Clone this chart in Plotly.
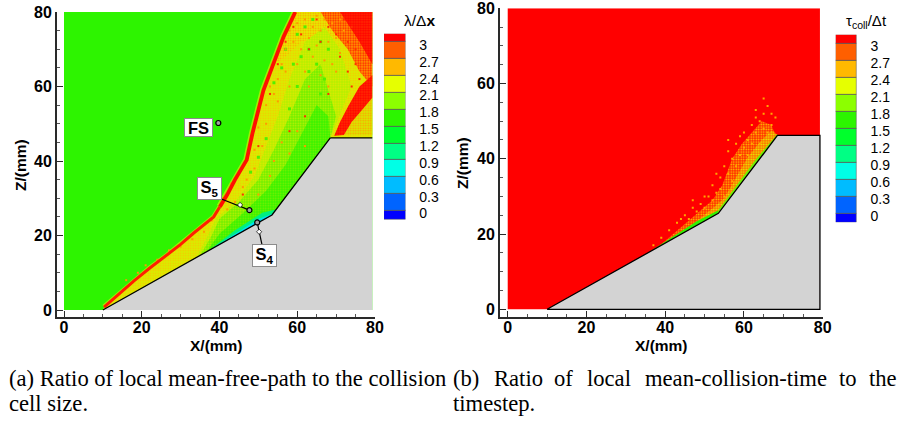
import plotly.graph_objects as go

W, H = 897, 422
# ---------- data ----------
wall_x = [10, 53.5, 68.5, 79.3, 79.3, 10]
wall_z = [0, 25.5, 46.2, 46.2, 0, 0]
field_x = [0, 79.3, 79.3, 0, 0]
field_z = [80, 80, 0, 0, 80]

shock_low_x = [10.3, 14, 18, 22, 26.5, 30, 33.3, 36, 38.5, 40.1]
shock_low_z = [0.8, 4.2, 7.8, 11.2, 14.7, 17.6, 20.6, 22.8, 25, 27.7]
shock_up_x = [40.1, 42, 44, 47, 48.5, 49.5, 51.3, 53.9, 56.5, 59.5]
shock_up_z = [27.7, 31, 35, 40.3, 47.5, 52, 59, 66.2, 73.4, 80]

layer_x = [10.3, 18, 26.5, 33.3, 38.5, 40.1, 44, 47, 48.5, 51.3, 53.9, 56.5, 59.5, 79.3, 79.3, 68.5, 53.5, 10]
layer_z = [0.8, 7.8, 14.7, 20.6, 25, 27.7, 35, 40.3, 47.5, 59, 66.2, 73.4, 80, 80, 46.2, 46.2, 25.5, 0]

body_x = [34, 37, 39, 44, 49, 52, 55, 58, 62, 67, 71, 74, 70, 68.5, 53.5, 36]
body_z = [14, 20, 24.5, 29, 36, 44, 52, 62, 72, 76, 70, 60, 50, 46.2, 25.5, 15]
tongue_x = [35, 38, 40, 45, 50, 54, 58, 62, 66, 70, 68.5, 53.5, 36]
tongue_z = [14.6, 20, 24.5, 29, 35, 43, 52, 62, 66, 52, 46.2, 25.5, 15]
core_x = [36.5, 40, 46, 52, 57, 61, 65, 68, 68.5, 53.5, 36.5]
core_z = [15.5, 20.5, 26, 32, 39, 47, 55, 52, 46.2, 25.5, 15.5]
teal_x = [37, 44, 51, 54.5, 53.5, 37]
teal_z = [15.8, 21.4, 26.1, 27.0, 25.5, 15.8]
cyan_x = [37, 44, 50, 53.8, 53.5, 37]
cyan_z = [15.8, 20.4, 24.4, 25.9, 25.5, 15.8]
blue_x = [39, 46, 51, 53.5, 39]
blue_z = [17, 20.9, 24.0, 25.5, 17]

warm_x = [59.5, 70, 72, 66, 61, 57, 54]
warm_z = [80, 80, 72, 74, 72, 68, 66]
hot_x = [66, 79.3, 79.3, 76, 73, 69]
hot_z = [80, 80, 60, 64, 70, 75]
red_x = [71, 79.3, 79.3, 76]
red_z = [80, 80, 66, 72]
streak_x = [69.5, 71, 73, 76, 79.3, 79.3, 76.5, 74, 72]
streak_z = [46.8, 50.5, 54.5, 60, 63, 57, 53.5, 50.5, 47]
pocket_x = [72, 74, 76.5, 79.3, 79.3]
pocket_z = [47, 50.5, 53.5, 57, 47]

# hand-placed cells read from the speckle behind the shock
orange_x = [16, 19, 21, 24, 27, 30, 33, 36, 38, 41, 42, 43, 45, 46, 49, 49, 50, 51, 52, 52, 53, 54, 55, 55, 56, 57, 57,
            58, 58, 59, 60, 60, 61, 62, 62, 63, 63, 64, 64, 65, 65, 66, 66, 67, 67, 68, 68, 69, 69, 70, 70, 71, 71, 72,
            54, 56, 58, 60, 62, 64, 50, 47, 44, 48, 53]
orange_z = [8, 10, 12, 13.5, 16, 17, 19, 21, 24, 30, 27, 34, 37, 33, 43, 38, 49, 44, 55, 50, 60, 58, 62, 56, 66, 70, 64,
            75, 60, 72, 77, 66, 70, 78, 64, 73, 60, 76, 68, 79, 71, 75, 63, 78, 67, 72, 60, 77, 66, 73, 64, 78, 69, 75,
            40, 45, 42, 48, 44, 39, 31, 35, 29, 27, 36]
red_spot_x = [50, 53, 55, 57, 59, 61, 63, 65, 66, 68, 70, 71, 72, 73, 73, 74, 74, 75, 75, 76, 58, 46, 62, 68]
red_spot_z = [44, 58, 66, 72, 76, 74, 70, 78, 72, 76, 74, 68, 78, 64, 72, 60, 76, 66, 70, 62, 48, 31, 52, 58]
green_spot_x = [54, 56, 57, 59, 60, 61, 62, 63, 64, 65, 66, 67, 68, 58, 52, 50, 48, 60, 63, 66]
green_spot_z = [61, 65, 70, 66, 74, 68, 76, 70, 78, 66, 72, 62, 70, 54, 46, 41, 37, 60, 64, 58]

# right-hand panel
speck_x = [37, 42, 47, 52, 54.5, 57, 59.5, 62, 64.5, 67, 67.5, 68.5, 53.5, 36]
speck_z = [15.5, 20, 24.5, 29, 33, 40, 44, 47, 50, 49, 47.5, 46.2, 25.5, 15]
inner_x = [37, 42, 47, 52, 55, 58, 61, 64.5, 67, 68.5, 53.5, 36]
inner_z = [15.3, 18.9, 22.6, 26.8, 29.5, 35, 40.5, 45, 47.5, 46.2, 25.5, 15]
film_x = [36, 42, 48, 53.5, 53.5]
film_z = [15.3, 19.4, 23.4, 26.3, 25.5]
film2_x = [53.5, 58, 63, 68.5, 68.5, 53.5]
film2_z = [26.4, 32.6, 39.8, 46.6, 46.2, 25.5]
fringe_x = [37, 39, 41, 43, 44, 45, 46, 47, 48, 49, 50, 50, 51, 52, 52, 53, 54, 54, 55, 55, 56, 56, 57, 57, 58, 58, 59, 59,
            60, 60, 61, 61, 62, 62, 63, 63, 64, 64, 65, 65, 66, 66, 67, 67, 68, 65, 63, 56, 53, 47]
fringe_z = [17, 19, 21, 23, 24, 25, 24, 27, 26, 28, 27, 30, 30, 29, 33, 31, 35, 32, 30, 38, 36, 42, 34, 40, 38, 44, 41, 46,
            43, 47, 45, 41, 49, 44, 47, 51, 50, 44, 52, 48, 54, 47, 52, 49, 51, 56, 53, 45, 36, 29]

level_edges = [-0.11, 0.05, 0.35, 0.65, 0.95, 1.25, 1.55, 1.85, 2.15, 2.45, 2.75, 3.05, 3.2]
level_colors = ["#0000ff", "#0064ff", "#00bcff", "#00ffe6", "#00ff84", "#00ff2c", "#2cf500",
                "#8cff00", "#e6ff00", "#ffb900", "#ff5f00", "#ff0000"]
level_ticks = [0, 0.3, 0.6, 0.9, 1.2, 1.5, 1.8, 2.1, 2.4, 2.7, 3]
level_text = ["0", "0.3", "0.6", "0.9", "1.2", "1.5", "1.8", "2.1", "2.4", "2.7", "3"]
axis_ticks = [0, 20, 40, 60, 80]
caption_a = ["(a) Ratio of local mean-free-path to the collision", "cell size."]
caption_b1 = ["(b)", "Ratio", "of", "local", "mean-collision-time", "to", "the"]
caption_b1_px = [452, 493, 553, 586, 644, 838, 868]
caption_b2 = "timestep."

# ---------- layout helpers ----------
fig = go.Figure()
SANS = "Liberation Sans"
SERIF = "Liberation Serif"
DARK = "#2a2a2a"
TICKS = dict(family=SANS, size=16, color="black", weight="bold")


def dom(a, b, total):
    return [a / total, b / total]


def ydom(top, bottom):
    return [1 - bottom / H, 1 - top / H]


def poly(x, z, color, ax, pattern=None):
    kw = dict(x=x, y=z, mode="lines", fill="toself", fillcolor=color,
              line=dict(width=0), xaxis=ax[0], yaxis=ax[1], hoverinfo="skip", showlegend=False)
    if pattern:
        kw["fillpattern"] = dict(shape=".", fgcolor=pattern[0], bgcolor=color,
                                 size=pattern[1], solidity=pattern[2], fillmode="replace")
    fig.add_trace(go.Scatter(**kw))


def line(x, z, color, width, ax):
    fig.add_trace(go.Scatter(x=x, y=z, mode="lines", line=dict(color=color, width=width),
                             xaxis=ax[0], yaxis=ax[1], hoverinfo="skip", showlegend=False))


def spots(x, z, color, ax, size=2):
    fig.add_trace(go.Scatter(x=x, y=z, mode="markers", marker=dict(size=size, color=color, symbol="square", line=dict(width=0)),
                             xaxis=ax[0], yaxis=ax[1], hoverinfo="skip", showlegend=False))


A = ("x", "y")
B = ("x2", "y2")

# ---------- left panel ----------
poly(field_x, field_z, "#2df400", A)
line(shock_up_x, shock_up_z, "#9cf200", 7, A)
line(shock_low_x, shock_low_z, "#9cf200", 5, A)
poly(layer_x, layer_z, "#d8ee00", A, ("#f6c800", 2.5, 0.35))
poly(warm_x, warm_z, "#e4ee00", A, ("#ffa000", 2.5, 0.35))
poly(body_x, body_z, "#b4f000", A, ("#e8e800", 2.5, 0.35))
poly(tongue_x, tongue_z, "#70f000", A, ("#c8f000", 2.5, 0.35))
poly(core_x, core_z, "#38f400", A, ("#80f000", 2.5, 0.35))
poly(hot_x, hot_z, "#ffa000", A, ("#ff2000", 2.5, 0.45))
poly(red_x, red_z, "#ff3000", A, ("#ff0000", 2.5, 0.6))
poly(pocket_x, pocket_z, "#d8e800", A, ("#ffa000", 2.5, 0.4))
poly(streak_x, streak_z, "#ff3000", A, ("#ff0000", 2.5, 0.5))
poly(teal_x, teal_z, "#00f080", A)
poly(cyan_x, cyan_z, "#00e0f0", A)
poly(blue_x, blue_z, "#0098ff", A)
spots(green_spot_x, green_spot_z, "#50f000", A, 3)
spots(orange_x, orange_z, "#ff9a00", A)
spots(red_spot_x, red_spot_z, "#ff3000", A)
line(shock_up_x, shock_up_z, "#ff1000", 3.8, A)
line(shock_low_x, shock_low_z, "#ff2000", 3, A)
poly(wall_x, wall_z, "#d3d3d3", A)
line(wall_x[:3], wall_z[:3], "black", 1.3, A)
line(wall_x[2:4], wall_z[2:4], "black", 1.3, A)

# probe leaders and points
for lx, lz in (([40.5, 47.7], [29.8, 26.8]), ([50.9, 49.7], [17.7, 23.5])):
    line(lx, lz, "black", 1.2, A)
fig.add_trace(go.Scatter(x=[39.7, 47.7, 49.7], y=[50.2, 26.8, 23.5], mode="markers",
                         marker=dict(size=5, color="#a0a0a0", line=dict(color="black", width=1.2)),
                         xaxis="x", yaxis="y", hoverinfo="skip", showlegend=False))
fig.add_trace(go.Scatter(x=[45.3, 50.2], y=[28.2, 21], mode="markers",
                         marker=dict(size=4, color="white", symbol="diamond", line=dict(color="black", width=0.7)),
                         xaxis="x", yaxis="y", hoverinfo="skip", showlegend=False))

# ---------- right panel ----------
poly(field_x, field_z, "#ff0000", B)
poly(speck_x, speck_z, "#ff3000", B, ("#ffc800", 2.5, 0.3))
poly(inner_x, inner_z, "#ff7000", B, ("#e6f000", 2.5, 0.4))
spots(fringe_x, fringe_z, "#ffa800", B)
poly(film_x, film_z, "#30f000", B)
poly(film2_x, film2_z, "#70f000", B)
poly(wall_x, wall_z, "#d3d3d3", B)
line(wall_x, wall_z, "black", 1.3, B)

# ---------- colour bars ----------
heights = [b - a for a, b in zip(level_edges[:-1], level_edges[1:])]
for xa_, ya_ in (("x3", "y3"), ("x4", "y4")):
    fig.add_trace(go.Bar(x=[0] * len(heights), y=heights, base=level_edges[:-1], width=1,
                         marker=dict(color=level_colors, line=dict(color="#555555", width=0.7)),
                         xaxis=xa_, yaxis=ya_, hoverinfo="skip", showlegend=False))


# ---------- axes ----------
def main_axis(domain, low, standoff):
    return dict(domain=domain, range=[low, 80], tickmode="array", tickvals=axis_ticks, ticks="inside", ticklen=6,
                tickwidth=1.2, tickcolor=DARK, showline=True, linecolor=DARK, linewidth=1.8,
                showgrid=False, zeroline=False, automargin=False, ticklabeloverflow="allow",
                ticklabelstandoff=standoff, tickfont=TICKS)


def bar_x(domain):
    return dict(domain=domain, range=[-0.5, 0.5], visible=False)


def bar_y(domain, anchor):
    return dict(domain=domain, range=[level_edges[0], level_edges[-1]], side="right", anchor=anchor,
                tickmode="array", tickvals=level_ticks, ticktext=level_text, ticks="outside", ticklen=10,
                tickcolor="rgba(0,0,0,0)", showgrid=False, zeroline=False, showline=False, automargin=False,
                tickfont=dict(family=SANS, size=14, color="black"))


MINOR = dict(ticks="inside", ticklen=3, tickwidth=1, tickcolor="#555555", tickvals=[5, 10, 15, 25, 30, 35, 45, 50, 55, 65, 70, 75])

xa = main_axis(dom(57, 375, W), -1.8, -5)
xb = main_axis(dom(500, 822.7, W), -1.96, -5)
ya = main_axis(ydom(12, 317), -1.88, 0)
yb = main_axis(ydom(8.3, 316.7), -1.97, 0)
for d in (xa, xb, ya, yb):
    d["minor"] = MINOR

ann = []


def label(text, x, z, w, h):
    ann.append(dict(x=x, y=z, xref="x", yref="y", text=f"<b>{text}</b>", showarrow=False, width=w, height=h,
                    bgcolor="white", bordercolor="#8c8c8c", borderwidth=1, borderpad=0,
                    font=dict(family=SANS, size=16.5, color="black")))


label("FS", 34.5, 49.1, 27, 17)
label("S<sub>5</sub>", 37.3, 32.7, 23, 21)
label("S<sub>4</sub>", 51.5, 14.6, 23, 21)


def page(text, px, py, family=SERIF, size=22.6, anchor="left", angle=0):
    ann.append(dict(x=px / W, y=1 - py / H, xref="paper", yref="paper", text=text, showarrow=False, textangle=angle,
                    xanchor=anchor, yanchor="middle", font=dict(family=family, size=size, color="black"), borderpad=0))


page(caption_a[0], 8, 378)
page(caption_a[1], 8, 403)
for word, px in zip(caption_b1, caption_b1_px):
    page(word, px, 378)
page(caption_b2, 452, 403)
page("λ/Δ<b>x</b>", 419, 20, SANS, 15.5, "center")
page("τ<sub>coll</sub>/Δt", 866, 21, SANS, 15, "center")
page("<b>X/(mm)</b>", 216, 345, SANS, 15.5, "center")
page("<b>X/(mm)</b>", 661, 345, SANS, 15.5, "center")
page("<b>Z/(mm)</b>", 20, 165, SANS, 15.5, "center", -90)
page("<b>Z/(mm)</b>", 463, 163, SANS, 15.5, "center", -90)

fig.update_layout(
    width=W, height=H, margin=dict(l=0, r=0, t=0, b=0, autoexpand=False), paper_bgcolor="white", plot_bgcolor="white",
    font=dict(family=SANS), showlegend=False, barmode="overlay", bargap=0,
    xaxis=dict(xa, anchor="y"), yaxis=dict(ya, anchor="x"),
    xaxis2=dict(xb, anchor="y2"), yaxis2=dict(yb, anchor="x2"),
    xaxis3=dict(bar_x(dom(384, 405.5, W)), anchor="y3"), yaxis3=bar_y(ydom(33.7, 219.7), "x3"),
    xaxis4=dict(bar_x(dom(835.7, 856.7, W)), anchor="y4"), yaxis4=bar_y(ydom(34.7, 222.3), "x4"),
    annotations=ann,
)
fig.write_html("out.html", config=dict(displayModeBar=False),
               post_script="document.body.style.margin='0';document.body.style.overflow='hidden';")
